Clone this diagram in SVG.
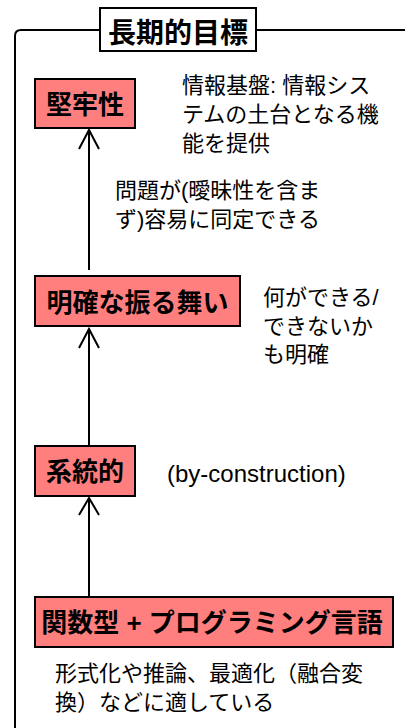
<svg xmlns="http://www.w3.org/2000/svg" width="405" height="728" viewBox="0 0 405 728">
<defs>
<style>
.node rect{fill:#FF7F7F;stroke:#000;stroke-width:2}
.lbl{font-family:"Liberation Sans","Noto Sans CJK JP",sans-serif;font-weight:bold;font-size:26px;fill:#000}
.note{font-family:"Liberation Sans","Noto Sans CJK JP",sans-serif;font-size:22px;fill:#000}
.conn line{stroke:#000;stroke-width:2}
.conn polyline{fill:none;stroke:#000;stroke-width:2}
</style>
</defs>
<rect width="405" height="728" fill="#fff"/>
<g id="frame">
<path d="M15,728 V36 Q15,30 21,30 H405" fill="none" stroke="#000" stroke-width="2"/>
<rect x="100" y="8" width="156" height="43" fill="#fff" stroke="#000" stroke-width="2"/>
<text class="lbl" x="178" y="43" text-anchor="middle" style="font-size:28px">長期的目標</text>
</g>
<g class="conn" id="connectors">
<line x1="89" y1="130" x2="89" y2="270"/>
<polyline points="79,149 89,130 99,149"/>
<line x1="89" y1="329" x2="89" y2="446"/>
<polyline points="79,348 89,329 99,348"/>
<line x1="89" y1="498" x2="89" y2="597"/>
<polyline points="79,515 89,498 99,515"/>
</g>
<g class="node" id="n-robust">
<rect x="35" y="79" width="100" height="49"/>
<text class="lbl" x="85" y="114" text-anchor="middle">堅牢性</text>
</g>
<g class="node" id="n-clear">
<rect x="35" y="276" width="205" height="50"/>
<text class="lbl" x="137.5" y="312" text-anchor="middle">明確な振る舞い</text>
</g>
<g class="node" id="n-systematic">
<rect x="35" y="446" width="100" height="50"/>
<text class="lbl" x="85" y="481" text-anchor="middle">系統的</text>
</g>
<g class="node" id="n-functional">
<rect x="35" y="597" width="358" height="50"/>
<text class="lbl" x="212" y="632" text-anchor="middle">関数型 + プログラミング言語</text>
</g>
<g id="notes">
<text class="note" x="182" y="93">情報基盤: 情報シス</text>
<text class="note" x="182" y="122">テムの土台となる機</text>
<text class="note" x="182" y="151">能を提供</text>
<text class="note" x="115" y="198">問題が(曖昧性を含ま</text>
<text class="note" x="115" y="227">ず)容易に同定できる</text>
<text class="note" x="263" y="305">何ができる/</text>
<text class="note" x="263" y="334">できないか</text>
<text class="note" x="263" y="362">も明確</text>
<text class="note" x="167" y="482" style="font-size:24px">(by-construction)</text>
<text class="note" x="55" y="681">形式化や推論、最適化（融合変</text>
<text class="note" x="55" y="710">換）などに適している</text>
</g>
</svg>
